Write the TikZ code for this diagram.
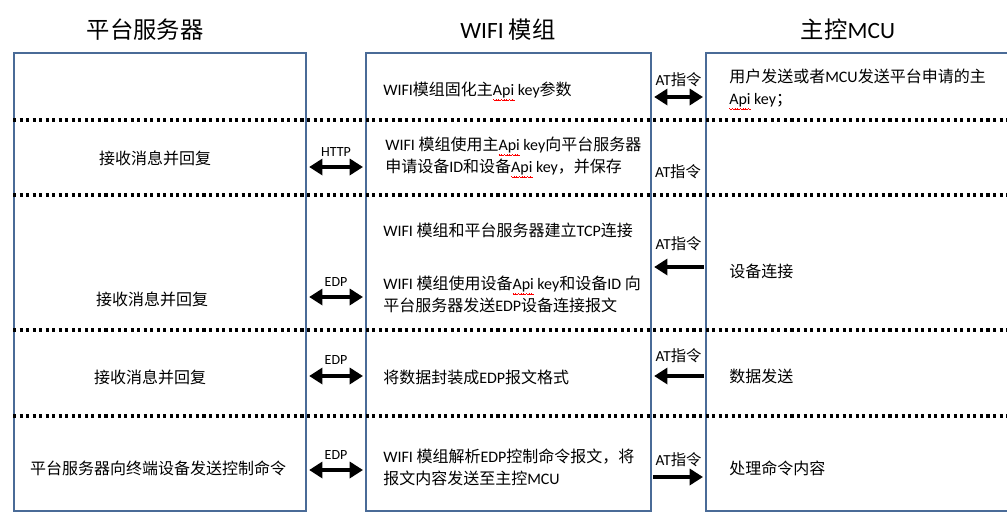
\documentclass[tikz,border=0pt]{standalone}
\usepackage{fontspec}
\setmainfont{Carlito}
\newfontfamily\cjk{Noto Sans CJK SC}
\newcommand\zh[1]{{\cjk #1}}
\newsavebox\wavebox
\newcommand\wvbit[1]{\raisebox{#1}[0pt][0pt]{\rule{0.5pt}{0.45pt}}}
\newcommand\wvunit{\hbox{{\color{red}\wvbit{-3.4pt}\wvbit{-3.8pt}\wvbit{-4.2pt}\wvbit{-3.8pt}}}}
\newcommand\rwave[1]{\sbox\wavebox{#1}\rlap{\leaders\wvunit\hskip\wd\wavebox}#1}
\usetikzlibrary{arrows.meta}
\definecolor{boxblue}{HTML}{4A6B97}
\begin{document}
\begin{tikzpicture}[x=0.75pt,y=-0.75pt,
  lane/.style={draw=boxblue, line width=1.6pt, rectangle, inner sep=0pt, anchor=north west},
  sep/.style={line width=2.3pt, dash pattern=on 2.3pt off 2.6pt},
  tip/.tip={Triangle[length=10pt,width=12pt]},
  biarrow/.style={line width=3pt, tip-tip, shorten <=1.5pt, shorten >=1.5pt},
  onearrow/.style={line width=3pt, -tip, shorten <=1pt, shorten >=1.5pt},
  head/.style={font=\fontsize{17.5}{20}\selectfont},
  txt/.style={font=\fontsize{12}{16.5}\selectfont, align=left, inner sep=0pt},
  ctxt/.style={font=\fontsize{12}{16.5}\selectfont, align=center, inner sep=0pt},
  lbl/.style={font=\fontsize{10.5}{12}\selectfont, inner sep=0pt},
  atl/.style={font=\fontsize{11.5}{13}\selectfont, inner sep=0pt}]
\useasboundingbox (0,0) rectangle (1007,511);
\fill[white] (0,0) rectangle (1007,511);

% headers
\node[head] (hL) at (145,30) {\zh{平台服务器}};
\node[head] (hM) at (508,30) {WIFI \zh{模组}};
\node[head] (hR) at (848,30) {\zh{主控}MCU};

% lanes
\node[lane, minimum width=219pt, minimum height=343.5pt] (L) at (13,52) {};
\node[lane, minimum width=213.75pt, minimum height=343.5pt] (M) at (365,52) {};
\node[lane, minimum width=250pt, minimum height=343.5pt] (R) at (705,52) {};

% separators
\foreach \yy in {120,195,330,416} {
  \draw[sep] (13,\yy) -- (1010,\yy);
}

% row coordinates
\coordinate (y1) at (0,97);
\coordinate (y2) at (0,167);
\coordinate (y3) at (0,297);
\coordinate (y3r) at (0,267);
\coordinate (y4) at (0,376);
\coordinate (y5) at (0,470);
\coordinate (y5r) at (0,477);

% row 1
\node[txt, anchor=west] (m1) at (383,90) {WIFI\zh{模组固化主}\rwave{Api} key\zh{参数}};
\node[txt, anchor=west] (r1) at (729,88) {\zh{用户发送或者}MCU\zh{发送平台申请的主}\\\rwave{Api} key\zh{；}};
\draw[biarrow] (M.east |- y1) -- node[atl, above=6pt] (a1) {AT\zh{指令}} (R.west |- y1);

% row 2
\node[ctxt] (l2) at (155,158) {\zh{接收消息并回复}};
\node[txt, anchor=west] (m2) at (385,156) {WIFI \zh{模组使用主}\rwave{Api} key\zh{向平台服务器}\\\zh{申请设备}ID\zh{和设备}\rwave{Api} key\zh{，并保存}};
\draw[biarrow] (L.east |- y2) -- node[lbl, above=6.5pt] (e2) {HTTP} (M.west |- y2);
\node[atl] (a2) at (678,172) {AT\zh{指令}};

% row 3
\node[ctxt] (l3) at (152,299) {\zh{接收消息并回复}};
\node[txt, anchor=west] (m3a) at (383,230) {WIFI \zh{模组和平台服务器建立}TCP\zh{连接}};
\node[txt, anchor=west] (m3b) at (383,294) {WIFI \zh{模组使用设备}\rwave{Api} key\zh{和设备}ID \zh{向}\\\zh{平台服务器发送}EDP\zh{设备连接报文}};
\node[txt, anchor=west] (r3) at (729,271) {\zh{设备连接}};
\draw[biarrow] (L.east |- y3) -- node[lbl, above=6.5pt] (e3) {EDP} (M.west |- y3);
\draw[onearrow] (R.west |- y3r) -- node[atl, above=10.5pt] (a3) {AT\zh{指令}} (M.east |- y3r);

% row 4
\node[ctxt] (l4) at (150,377) {\zh{接收消息并回复}};
\node[txt, anchor=west] (m4) at (383,377) {\zh{将数据封装成}EDP\zh{报文格式}};
\node[txt, anchor=west] (r4) at (729,376) {\zh{数据发送}};
\draw[biarrow] (L.east |- y4) -- node[lbl, above=7.5pt] (e4) {EDP} (M.west |- y4);
\draw[onearrow] (R.west |- y4) -- node[atl, above=8.5pt] (a4) {AT\zh{指令}} (M.east |- y4);

% row 5
\node[ctxt] (l5) at (158,468) {\zh{平台服务器向终端设备发送控制命令}};
\node[txt, anchor=west] (m5) at (383,467) {WIFI \zh{模组解析}EDP\zh{控制命令报文，将}\\\zh{报文内容发送至主控}MCU};
\node[txt, anchor=west] (r5) at (729,468) {\zh{处理命令内容}};
\draw[biarrow] (L.east |- y5) -- node[lbl, above=6.5pt] (e5) {EDP} (M.west |- y5);
\draw[onearrow] (M.east |- y5r) -- node[atl, above=6.5pt] (a5) {AT\zh{指令}} (R.west |- y5r);
\end{tikzpicture}
\end{document}
